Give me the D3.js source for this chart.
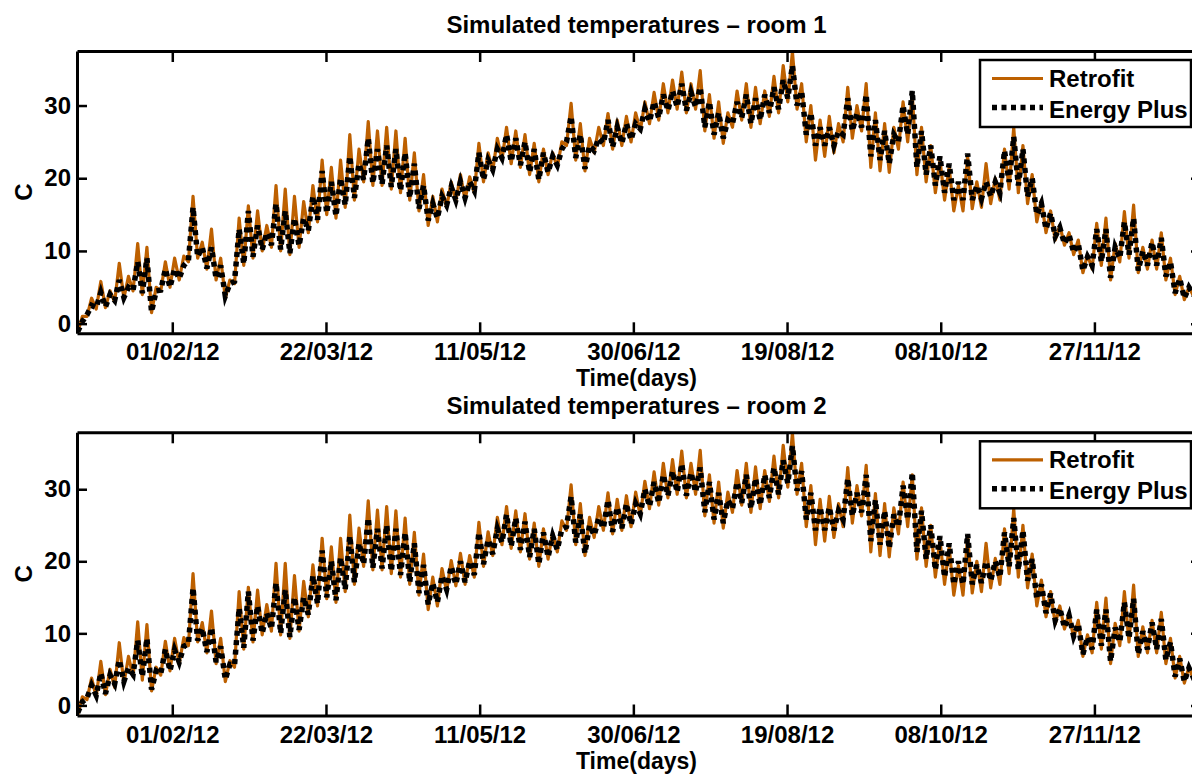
<!DOCTYPE html>
<html>
<head>
<meta charset="utf-8">
<script src="https://cdn.jsdelivr.net/npm/d3@7"></script>
<style>
  body { margin: 0; background: #fff; }
  svg { display: block; font-family: "Liberation Sans", Arial, Helvetica, sans-serif; font-weight: bold; }
</style>
</head>
<body>
<svg id="chart" width="1192" height="774"></svg>
<script>
// time axis: one sample every 3 days from 1 Jan 2012 (low = night, high = afternoon)
const startDate = "01/01/12";
const endDate = "01/01/13";
const stepDays = 3;
const xTickLabels = ["01/02/12", "22/03/12", "11/05/12", "30/06/12", "19/08/12", "08/10/12", "27/11/12"];
const yTickValues = [0, 10, 20, 30];
const seriesNames = ["Retrofit", "Energy Plus"];
const panelTitles = ["Simulated temperatures \u2013 room 1", "Simulated temperatures \u2013 room 2"];
const xLabel = "Time(days)";
const yLabel = "C";
const yLimits = [[-1.33, 37.5], [-1.4, 37.9]];

// room 1
const retrofitHigh1 = [1.0,3.5,5.8,4.5,8.3,6.5,11.0,10.5,5.0,8.5, 9.0,9.3,17.5,11.2,13.0,9.0,6.0,14.5,16.2,15.5,
  13.5,19.0,18.5,17.5,16.8,19.0,22.5,21.5,22.5,26.0, 24.0,27.8,26.5,27.0,26.5,25.5,23.5,20.5,17.5,18.5,
  19.5,20.5,20.2,24.8,23.5,25.5,27.0,26.5,26.0,24.8, 24.0,23.5,25.0,30.3,27.5,25.5,27.0,28.9,28.0,28.5,
  29.0,30.5,31.8,33.0,33.5,34.6,33.0,34.8,31.5,30.5, 29.0,32.0,33.0,32.5,32.0,34.0,35.5,37.4,33.0,30.0,
  28.0,28.5,27.5,32.5,30.0,33.0,29.0,27.5,27.0,30.5, 31.5,27.0,24.5,22.5,21.5,19.0,23.0,19.5,22.0,20.0,
  24.0,27.0,24.5,20.5,17.0,15.5,13.5,12.5,11.5,9.5, 13.8,14.5,11.0,15.4,16.3,10.5,11.5,12.5,9.0,6.5, 5.0,4.8];
const retrofitLow1 = [-1.2,1.0,2.0,2.2,3.0,3.5,4.5,4.0,1.5,4.5, 5.0,6.0,8.5,9.0,7.5,6.0,3.5,5.5,8.0,9.0,
  10.0,10.5,10.0,9.5,10.5,12.5,14.0,15.0,14.5,16.0, 17.0,19.5,19.0,19.0,18.5,18.0,17.0,15.5,13.5,14.0,
  16.0,16.8,17.0,18.0,19.5,21.0,22.5,22.0,21.5,20.5, 19.5,20.5,21.5,24.5,22.5,21.0,23.5,24.5,24.0,24.5,
  25.0,26.5,27.5,28.0,29.0,29.5,29.0,29.5,26.5,25.5, 24.8,27.0,28.0,27.0,27.5,28.5,29.0,30.5,29.5,25.0,
  22.5,23.0,23.5,25.0,25.5,26.5,21.5,21.0,20.8,24.0, 25.0,20.5,19.5,18.0,17.0,15.5,15.5,15.8,16.0,16.5,
  17.0,18.5,18.0,16.5,14.0,12.5,11.5,10.8,9.5,7.0, 7.5,8.0,6.0,8.5,9.0,7.0,7.5,7.5,6.0,4.0, 3.3,3.8];
const energyPlusHigh1 = [0.3,2.5,4.3,4.0,6.0,5.0,8.5,9.0,4.5,7.5, 7.5,8.0,16.0,10.5,10.5,8.0,5.5,13.0,15.5,13.5,
  12.5,16.5,15.5,14.5,14.5,17.5,21.0,19.5,20.0,23.0, 22.0,25.5,24.0,24.5,24.0,23.5,22.0,19.0,16.5,17.5,
  18.8,19.5,19.5,23.5,22.5,24.0,26.0,25.5,25.0,24.0, 23.5,23.0,24.0,28.5,26.0,24.5,25.5,28.0,27.0,27.5,
  27.5,29.5,30.5,31.5,32.0,33.0,31.8,32.5,30.5,29.0, 28.0,30.5,31.5,31.0,31.5,32.5,33.5,35.5,32.0,29.0,
  27.0,27.0,26.5,31.0,29.0,31.5,28.0,26.5,26.0,30.0, 32.0,26.5,24.5,23.0,22.0,19.5,23.4,19.0,19.5,19.5,
  23.8,25.7,24.0,20.0,16.5,15.2,13.2,12.2,11.0,9.2, 13.0,13.0,10.5,14.0,14.5,10.0,11.2,11.8,8.5,6.2, 5.0,4.5];
const energyPlusLow1 = [-1.1,1.2,2.2,2.3,3.2,3.6,4.6,4.2,1.6,4.6, 5.0,6.2,8.7,9.2,7.6,6.2,3.8,5.8,8.2,9.2,
  10.2,10.8,10.2,9.7,10.7,12.8,14.3,15.2,14.8,16.3, 17.3,19.8,19.3,19.2,18.8,18.3,17.3,15.8,14.2,14.5,
  16.3,17.0,17.3,18.3,19.8,21.2,22.8,22.3,21.8,20.8, 19.8,20.8,21.8,25.0,22.8,21.3,23.8,24.8,24.3,24.8,
  25.3,26.8,27.8,28.3,29.3,29.8,29.3,29.8,27.0,26.0, 25.5,27.5,28.3,27.5,28.0,29.0,29.5,31.0,30.0,26.0,
  24.5,24.5,24.5,26.0,26.5,27.0,23.0,22.5,22.0,25.0, 26.0,21.5,20.5,19.0,18.0,17.0,17.0,17.0,17.2,17.5,
  18.0,19.5,19.0,17.5,15.0,13.0,12.0,11.0,9.8,7.3, 8.0,8.5,6.3,9.0,9.5,7.3,8.0,8.0,6.5,4.2, 3.5,4.0];

// room 2
const retrofitHigh2 = [1.2,3.8,6.1,5.0,8.7,6.8,11.6,11.2,5.3,8.9, 9.3,9.4,18.3,11.5,13.1,9.3,6.2,15.8,16.4,16.0,
  14.0,19.7,19.7,18.0,17.2,19.5,23.2,22.0,23.2,26.4, 24.6,28.4,27.1,27.6,27.0,26.0,24.0,21.0,17.8,19.0,
  20.1,21.1,20.8,25.4,24.1,26.1,27.6,27.0,26.6,25.3, 24.5,24.0,25.6,30.6,28.0,26.1,27.6,29.5,28.6,29.1,
  29.6,31.1,32.4,33.6,34.1,35.3,33.6,35.4,32.0,31.0, 29.6,32.6,33.6,33.1,32.6,34.6,36.1,37.8,33.6,30.5,
  28.6,29.0,28.0,33.0,30.5,33.3,29.4,28.0,27.4,31.0, 32.0,27.4,25.0,23.0,22.0,19.4,23.4,20.0,22.5,20.4,
  24.5,27.3,25.0,21.0,17.4,15.8,13.8,12.8,11.8,9.8, 14.3,14.9,11.4,15.8,16.7,10.9,11.8,12.9,9.3,6.8, 5.3,5.0];
const retrofitLow2 = [-1.3,0.8,1.2,1.5,2.5,3.0,4.0,3.5,2.0,4.2, 4.8,5.8,8.3,8.8,7.3,5.8,3.3,5.3,7.8,8.8,
  9.8,10.3,9.8,9.3,10.3,12.3,13.8,14.8,14.3,15.8, 16.8,19.3,18.8,18.8,18.3,17.8,16.8,15.3,13.3,13.8,
  15.8,16.6,16.8,17.8,19.3,20.8,22.3,21.8,21.3,20.3, 19.3,20.3,21.3,24.3,22.3,20.8,23.3,24.3,23.8,24.3,
  24.8,26.3,27.3,27.8,28.8,29.3,28.8,29.3,26.3,25.3, 24.6,26.8,27.8,26.8,27.3,28.3,28.8,30.3,29.3,24.8,
  22.3,22.8,23.3,24.8,25.3,26.3,21.3,20.8,20.6,23.8, 24.8,20.3,19.3,17.8,16.8,15.3,15.3,15.6,15.8,16.3,
  16.8,18.3,17.8,16.3,13.8,12.3,11.3,10.6,9.3,6.8, 7.3,7.8,5.8,8.3,8.8,6.8,7.3,7.3,5.8,3.8, 3.1,3.6];
const energyPlusHigh2 = [0.5,2.8,4.5,4.2,6.3,5.2,9.0,9.3,4.8,7.8, 7.7,8.2,16.3,10.7,10.8,8.2,5.7,13.5,15.8,13.8,
  12.8,17.0,16.0,15.0,15.0,18.0,21.5,20.0,20.5,23.5, 22.5,26.0,24.5,25.0,24.5,24.0,22.5,19.5,17.0,18.0,
  19.3,20.0,20.0,24.0,23.0,24.5,26.5,26.0,25.5,24.5, 24.0,23.5,24.5,29.0,26.5,25.0,26.0,28.5,27.5,28.0,
  28.0,30.0,31.0,32.0,32.5,33.5,32.3,33.0,31.0,29.5, 28.5,31.0,32.0,31.5,32.0,33.0,34.0,36.0,32.5,29.5,
  27.5,27.5,27.0,31.5,29.5,32.0,28.5,27.0,26.5,30.5, 32.3,27.0,25.0,23.5,22.5,20.0,23.8,19.5,20.0,20.0,
  24.0,26.0,24.3,20.3,16.8,15.5,13.5,12.5,11.3,9.5, 13.3,13.3,10.8,14.3,14.8,10.3,11.5,12.0,8.8,6.5, 5.2,4.7];
const energyPlusLow2 = [-1.0,1.0,1.4,1.6,3.0,3.3,4.3,4.0,2.2,4.4, 4.8,6.0,8.5,9.0,7.4,6.0,3.6,5.6,8.0,9.0,
  10.0,10.6,10.0,9.5,10.5,12.6,14.1,15.0,14.6,16.1, 17.1,19.6,19.1,19.0,18.6,18.1,17.1,15.6,14.0,14.3,
  16.1,16.8,17.1,18.1,19.6,21.0,22.6,22.1,21.6,20.6, 19.6,20.6,21.6,24.8,22.6,21.1,23.6,24.6,24.1,24.6,
  25.1,26.6,27.6,28.1,29.1,29.6,29.1,29.6,26.8,25.8, 25.3,27.3,28.1,27.3,27.8,28.8,29.3,30.8,29.8,25.8,
  24.3,24.3,24.3,25.8,26.3,26.8,22.8,22.3,21.8,24.8, 25.8,21.3,20.3,18.8,17.8,16.8,16.8,16.8,17.0,17.3,
  17.8,19.3,18.8,17.3,14.8,12.8,11.8,10.8,9.6,7.1, 7.8,8.3,6.1,8.8,9.3,7.1,7.8,7.8,6.3,4.0, 3.3,3.8];

const parseDate = d3.timeParse("%d/%m/%y");
const formatDate = d3.timeFormat("%d/%m/%y");
const t0 = parseDate(startDate);

// alternate night low / afternoon high for each sample
function dailyCycle(low, high) {
  const pts = [];
  const n = Math.min(low.length, high.length);
  for (let i = 0; i < n; i++) {
    pts.push({ date: d3.timeHour.offset(t0, i * stepDays * 24 + 6), value: low[i] });
    pts.push({ date: d3.timeHour.offset(t0, i * stepDays * 24 + 42), value: high[i] });
  }
  return pts;
}

const orange = "#bd6000";
const fontSize = "24px";
const svg = d3.select("#chart");
svg.append("rect").attr("width", 1192).attr("height", 774).attr("fill", "#fff");

const panels = [
  { top: 51, bottom: 333.3, retro: dailyCycle(retrofitLow1, retrofitHigh1), ep: dailyCycle(energyPlusLow1, energyPlusHigh1) },
  { top: 432.3, bottom: 715.5, retro: dailyCycle(retrofitLow2, retrofitHigh2), ep: dailyCycle(energyPlusLow2, energyPlusHigh2) },
];
const left = 77, right = 1202;

panels.forEach((p, k) => {
  const x = d3.scaleTime().domain([parseDate(startDate), parseDate(endDate)]).range([left, right]);
  const y = d3.scaleLinear().domain(yLimits[k]).range([p.bottom, p.top]);
  const g = svg.append("g");

  g.append("clipPath").attr("id", "clip" + k)
    .append("rect").attr("x", left).attr("y", p.top).attr("width", right - left).attr("height", p.bottom - p.top);

  const line = d3.line().x(d => x(d.date)).y(d => y(d.value));
  const plot = g.append("g").attr("clip-path", "url(#clip" + k + ")");
  plot.append("path").datum(p.retro)
    .attr("d", line).attr("fill", "none")
    .attr("stroke", orange).attr("stroke-width", 3.2).attr("stroke-linejoin", "round");
  plot.append("path").datum(p.ep)
    .attr("d", line).attr("fill", "none")
    .attr("stroke", "#000").attr("stroke-width", 5.5).attr("stroke-dasharray", "5 4.5");

  const xTicks = xTickLabels.map(parseDate);
  const styleAxis = (a) => {
    a.attr("font-size", fontSize).attr("font-family", null);
    a.select(".domain").attr("stroke-width", 3);
    a.selectAll(".tick line").attr("stroke-width", 2.5);
    a.selectAll(".tick text").attr("fill", "#000");
  };
  g.append("g").attr("transform", `translate(0,${p.bottom})`)
    .call(d3.axisBottom(x).tickValues(xTicks).tickFormat(formatDate).tickSizeInner(-11).tickSizeOuter(0).tickPadding(10))
    .call(styleAxis);
  g.append("g").attr("transform", `translate(0,${p.top})`)
    .call(d3.axisTop(x).tickValues(xTicks).tickFormat("").tickSizeInner(-11).tickSizeOuter(0))
    .call(styleAxis);
  g.append("g").attr("transform", `translate(${left},0)`)
    .call(d3.axisLeft(y).tickValues(yTickValues).tickSizeInner(-10).tickSizeOuter(0).tickPadding(6))
    .call(styleAxis);
  g.append("g").attr("transform", `translate(${right},0)`)
    .call(d3.axisRight(y).tickValues(yTickValues).tickFormat("").tickSizeInner(-11).tickSizeOuter(0))
    .call(styleAxis);

  const cx = (left + right) / 2 - 3;
  g.append("text").attr("x", cx).attr("y", p.top - 18.5)
    .attr("text-anchor", "middle").attr("font-size", fontSize).text(panelTitles[k]);
  g.append("text").attr("x", cx).attr("y", p.bottom + 53)
    .attr("text-anchor", "middle").attr("font-size", "23px").text(xLabel);
  g.append("text")
    .attr("transform", `translate(32,${(p.top + p.bottom) / 2}) rotate(-90)`)
    .attr("text-anchor", "middle").attr("font-size", fontSize).text(yLabel);

  // legend, top right
  const lg = g.append("g").attr("transform", `translate(980,${p.top + 9})`);
  lg.append("rect").attr("width", 211).attr("height", 67)
    .attr("fill", "#fff").attr("stroke", "#000").attr("stroke-width", 2.5);
  lg.append("line").attr("x1", 12).attr("x2", 63).attr("y1", 18.5).attr("y2", 18.5)
    .attr("stroke", orange).attr("stroke-width", 3.2);
  lg.append("line").attr("x1", 12).attr("x2", 63).attr("y1", 47.5).attr("y2", 47.5)
    .attr("stroke", "#000").attr("stroke-width", 5.5).attr("stroke-dasharray", "5 4.5");
  lg.selectAll("text.item").data(seriesNames).enter().append("text")
    .attr("class", "item")
    .attr("x", 69).attr("y", (d, i) => i === 0 ? 27 : 58)
    .attr("font-size", fontSize).text(d => d);
});
</script>
</body>
</html>
